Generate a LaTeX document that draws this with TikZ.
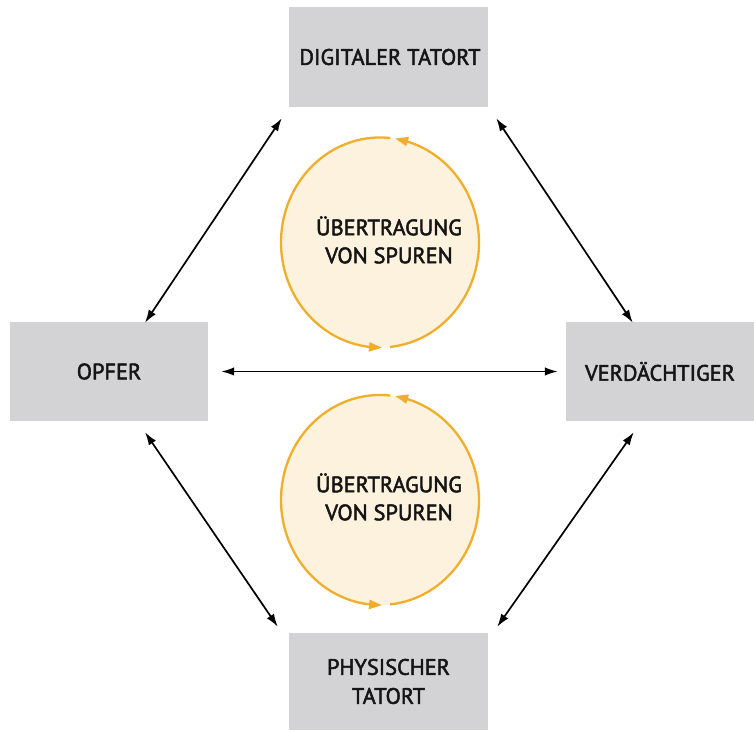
\documentclass[tikz,border=0pt]{standalone}
\usepackage{fontspec}
\setmainfont{PT Sans}
\newfontfamily\labelfont{PT Sans}[FakeBold=2.2]
\usetikzlibrary{arrows.meta,bending,calc}

\definecolor{boxgray}{HTML}{D3D3D5}
\definecolor{ringfill}{HTML}{FCF2DE}
\definecolor{ringline}{HTML}{F0AE2A}
\definecolor{labelink}{HTML}{151515}

\tikzset{
  place/.style={fill=boxgray, draw=none, inner sep=0pt, align=center, text=labelink,
    font=\labelfont\fontsize{22.3}{29}\selectfont},
  link/.style={line width=1.7pt, black, {Latex[length=13pt,width=8.5pt]}-{Latex[length=13pt,width=8.5pt]}},
  ring/.style={line width=2.3pt, ringline, -{Triangle[length=13pt,width=9pt,bend]}},
  ringtext/.style={align=center, text=labelink, font=\labelfont\fontsize{22.3}{28}\selectfont}
}

\begin{document}
\begin{tikzpicture}[x=1pt,y=1pt]
\useasboundingbox (0,0) rectangle (754,730);

% four places of the trace exchange
\node[place, minimum width=199pt, minimum height=100pt] (dig) at (388.5,673) {\hspace*{3pt}DIGITALER TATORT};
\node[place, minimum width=198pt, minimum height=99pt] (opf) at (109,358.5) {OPFER};
\node[place, minimum width=188pt, minimum height=99pt] (ver) at (660,358.5) {VERDÄCHTIGER};
\node[place, minimum width=199pt, minimum height=97pt] (phy) at (388.5,48.5) {PHYSISCHER\\TATORT};

% centres of the two exchange rings
\coordinate (c1) at (380,487.5);
\coordinate (c2) at (380,230);

\foreach \c in {c1,c2}{
  \fill[ringfill] (\c) ellipse [x radius=99, y radius=105];
  \draw[ring] ($(\c)+(84:99 and 105)$) arc[start angle=84, end angle=271.2, x radius=99, y radius=105];
  \draw[ring] ($(\c)+(275.8:99 and 105)$) arc[start angle=275.8, end angle=441.3, x radius=99, y radius=105];
}
\node[ringtext] (t1) at (389,490) {ÜBERTRAGUNG\\VON SPUREN};
\node[ringtext] (t2) at (389,233) {ÜBERTRAGUNG\\VON SPUREN};

% connector ends, just off the boxes
\coordinate (dl) at ($(dig.south west)+(-7,-11)$);
\coordinate (dr) at ($(dig.south east)+(8,-11)$);
\coordinate (ot) at ($(opf.north)+(36,-1)$);
\coordinate (ob) at ($(opf.south)+(36,-11)$);
\coordinate (oe) at ($(opf.east)+(13,0)$);
\coordinate (vt) at ($(ver.north west)+(67,-1)$);
\coordinate (vb) at ($(ver.south west)+(68,-11)$);
\coordinate (vw) at ($(ver.west)+(-8,0)$);
\coordinate (pl) at ($(phy.north west)+(-11,6)$);
\coordinate (pr) at ($(phy.north east)+(9,6)$);

\draw[link] (dl) -- (ot);
\draw[link] (dr) -- (vt);
\draw[link] (oe) -- (vw);
\draw[link] (ob) -- (pl);
\draw[link] (vb) -- (pr);
\end{tikzpicture}
\end{document}
